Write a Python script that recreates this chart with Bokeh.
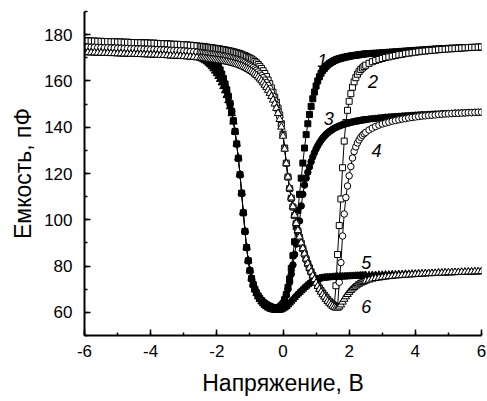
from bokeh.core.properties import value
from bokeh.embed import file_html
from bokeh.models import Range1d, SingleIntervalTicker, Title
from bokeh.plotting import figure
from bokeh.resources import INLINE

# Voltage sweep points, V: coarse on the plateaus, fine through the transitions
V_LEFT = [-6.0, -5.9, -5.8, -5.7, -5.6, -5.5, -5.4, -5.3, -5.2, -5.1,
          -5.0, -4.9, -4.8, -4.7, -4.6, -4.5, -4.4, -4.3, -4.2, -4.1,
          -4.0, -3.9, -3.8, -3.7, -3.6, -3.5, -3.4, -3.3, -3.2, -3.1,
          -3.0, -2.9, -2.8, -2.7, -2.6]
V_MID = [-2.50, -2.45, -2.40, -2.35, -2.30, -2.25, -2.20, -2.15, -2.10, -2.05,
         -2.00, -1.95, -1.90, -1.85, -1.80, -1.75, -1.70, -1.65, -1.60, -1.55,
         -1.50, -1.45, -1.40, -1.35, -1.30, -1.25, -1.20, -1.15, -1.10, -1.05,
         -1.00, -0.95, -0.90, -0.85, -0.80, -0.75, -0.70, -0.65, -0.60, -0.55,
         -0.50, -0.45, -0.40, -0.35, -0.30, -0.25, -0.20, -0.15, -0.10, -0.05,
         0.00, 0.05, 0.10, 0.15, 0.20, 0.25, 0.30, 0.35, 0.40, 0.45,
         0.50, 0.55, 0.60, 0.65, 0.70, 0.75, 0.80, 0.85, 0.90, 0.95,
         1.00, 1.05, 1.10, 1.15, 1.20, 1.25, 1.30, 1.35, 1.40, 1.45,
         1.50, 1.55, 1.60, 1.65, 1.70, 1.75, 1.80, 1.85, 1.90, 1.95,
         2.00, 2.05, 2.10, 2.15, 2.20, 2.25, 2.30, 2.35, 2.40, 2.45,
         2.50]
V_RIGHT = [2.6, 2.7, 2.8, 2.9, 3.0, 3.1, 3.2, 3.3, 3.4, 3.5,
           3.6, 3.7, 3.8, 3.9, 4.0, 4.1, 4.2, 4.3, 4.4, 4.5,
           4.6, 4.7, 4.8, 4.9, 5.0, 5.1, 5.2, 5.3, 5.4, 5.5,
           5.6, 5.7, 5.8, 5.9, 6.0]
VOLTAGE = V_LEFT + V_MID + V_RIGHT

# Capacitance, pF
C1 = [177.3, 177.3, 177.2, 177.2, 177.1, 177.1, 177.0, 177.0, 176.9, 176.9,
      176.8, 176.8, 176.7, 176.7, 176.6, 176.6, 176.5, 176.5, 176.4, 176.4,
      176.3, 176.3, 176.2, 176.1, 176.1, 176.0, 175.9, 175.8, 175.8, 175.7,
      175.6, 175.5, 175.4, 175.3, 175.0,
      174.7, 174.4, 174.0, 173.6, 173.1, 172.5, 171.8, 171.0, 170.1, 169.0,
      167.8, 166.4, 164.8, 163.0, 161.0, 158.7, 156.2, 153.4, 150.3, 146.8,
      142.8, 138.2, 132.8, 126.6, 119.5, 111.5, 103.0, 95.0, 88.0, 82.3,
      78.0, 74.6, 72.0, 70.0, 68.4, 67.1, 66.0, 65.1, 64.4, 63.8,
      63.3, 62.9, 62.6, 62.3, 62.1, 62.0, 61.9, 61.9, 62.2, 62.9,
      63.8, 65.5, 67.8, 70.8, 74.5, 79.0, 84.5, 90.5, 97.0, 104.0,
      111.0, 118.0, 124.5, 131.0, 136.8, 141.5, 145.5, 149.0, 152.3, 155.2,
      157.8, 160.0, 161.8, 163.3, 164.5, 165.4, 166.2, 166.9, 167.5, 168.0,
      168.4, 168.8, 169.1, 169.4, 169.6, 169.8, 170.0, 170.2, 170.3, 170.5,
      170.6, 170.8, 170.9, 171.0, 171.1, 171.2, 171.3, 171.4, 171.5, 171.6,
      171.7,
      171.8, 171.9, 172.0, 172.1, 172.2, 172.3, 172.4, 172.5, 172.6, 172.7,
      172.8, 172.9, 173.0, 173.1, 173.2, 173.3, 173.4, 173.5, 173.6, 173.7,
      173.8, 173.9, 174.0, 174.0, 174.1, 174.2, 174.2, 174.3, 174.3, 174.4,
      174.4, 174.5, 174.5, 174.6, 174.6]
C2 = [177.3, 177.3, 177.2, 177.2, 177.1, 177.1, 177.0, 177.0, 176.9, 176.9,
      176.8, 176.8, 176.7, 176.7, 176.6, 176.6, 176.5, 176.5, 176.4, 176.4,
      176.3, 176.3, 176.2, 176.1, 176.1, 176.0, 175.9, 175.8, 175.8, 175.7,
      175.6, 175.5, 175.4, 175.3, 175.1,
      175.0, 174.9, 174.8, 174.7, 174.6, 174.5, 174.4, 174.3, 174.2, 174.1,
      174.0, 173.9, 173.8, 173.6, 173.5, 173.4, 173.2, 173.1, 172.9, 172.8,
      172.6, 172.4, 172.2, 172.0, 171.8, 171.5, 171.2, 170.9, 170.6, 170.2,
      169.9, 169.5, 169.0, 168.4, 167.8, 167.1, 166.3, 165.4, 164.4, 163.2,
      161.9, 160.4, 158.8, 157.0, 155.1, 153.0, 150.8, 148.3, 145.3, 141.5,
      137.0, 131.0, 124.5, 118.5, 113.5, 109.3, 105.5, 101.8, 98.3, 95.2,
      92.4, 89.9, 87.5, 85.2, 83.0, 81.0, 79.2, 77.5, 75.9, 74.4,
      73.0, 71.7, 70.5, 69.4, 68.4, 67.4, 66.5, 65.6, 64.8, 64.1,
      63.5, 63.0, 71.5, 85.0, 97.5, 109.0, 122.5, 134.0, 142.0, 147.3,
      151.2, 154.5, 157.3, 159.6, 161.4, 162.9, 164.0, 164.9, 165.6, 166.2,
      166.8,
      167.6, 168.3, 168.8, 169.3, 169.7, 170.1, 170.4, 170.7, 171.0, 171.3,
      171.5, 171.8, 172.0, 172.2, 172.4, 172.6, 172.8, 172.9, 173.1, 173.2,
      173.3, 173.5, 173.6, 173.7, 173.8, 173.9, 174.0, 174.1, 174.2, 174.3,
      174.4, 174.5, 174.5, 174.6, 174.7]
C3 = [174.6, 174.6, 174.5, 174.5, 174.4, 174.4, 174.3, 174.3, 174.2, 174.2,
      174.1, 174.1, 174.0, 174.0, 173.9, 173.9, 173.8, 173.8, 173.7, 173.7,
      173.6, 173.6, 173.5, 173.4, 173.4, 173.3, 173.2, 173.1, 173.1, 173.0,
      172.9, 172.8, 172.7, 172.6, 172.4,
      172.3, 172.0, 171.6, 171.2, 170.7, 170.1, 169.4, 168.6, 167.7, 166.7,
      165.6, 164.4, 163.0, 161.5, 159.7, 157.7, 155.5, 153.0, 150.1, 146.7,
      142.7, 138.1, 132.7, 126.5, 119.4, 111.4, 103.0, 95.0, 88.0, 82.3,
      78.0, 74.6, 72.0, 70.0, 68.4, 67.0, 65.9, 65.0, 64.3, 63.7,
      63.2, 62.8, 62.5, 62.2, 62.0, 61.9, 61.9, 62.1, 62.6, 63.2,
      64.0, 65.5, 67.5, 70.0, 73.0, 76.5, 80.5, 85.0, 89.5, 94.5,
      99.5, 106.0, 111.0, 115.0, 118.0, 120.5, 122.8, 125.1, 127.2, 129.0,
      130.6, 132.0, 133.2, 134.3, 135.3, 136.1, 136.9, 137.5, 138.1, 138.6,
      139.1, 139.5, 139.9, 140.2, 140.5, 140.8, 141.1, 141.3, 141.5, 141.7,
      141.9, 142.1, 142.3, 142.4, 142.6, 142.7, 142.8, 143.0, 143.1, 143.2,
      143.3,
      143.5, 143.7, 143.8, 144.0, 144.1, 144.3, 144.4, 144.5, 144.6, 144.7,
      144.8, 144.9, 145.0, 145.1, 145.2, 145.3, 145.4, 145.4, 145.5, 145.6,
      145.7, 145.7, 145.8, 145.9, 145.9, 146.0, 146.1, 146.1, 146.2, 146.2,
      146.3, 146.3, 146.4, 146.4, 146.5]
C4 = [174.6, 174.6, 174.5, 174.5, 174.4, 174.4, 174.3, 174.3, 174.2, 174.2,
      174.1, 174.1, 174.0, 174.0, 173.9, 173.9, 173.8, 173.8, 173.7, 173.7,
      173.6, 173.6, 173.5, 173.4, 173.4, 173.3, 173.2, 173.1, 173.1, 173.0,
      172.9, 172.8, 172.7, 172.6, 172.4,
      172.3, 172.2, 172.1, 172.0, 171.9, 171.8, 171.7, 171.6, 171.5, 171.4,
      171.3, 171.2, 171.1, 171.0, 170.8, 170.7, 170.5, 170.4, 170.2, 170.0,
      169.8, 169.6, 169.4, 169.2, 168.9, 168.6, 168.3, 168.0, 167.6, 167.2,
      166.8, 166.3, 165.8, 165.2, 164.6, 163.9, 163.1, 162.3, 161.4, 160.4,
      159.3, 158.1, 156.7, 155.1, 153.4, 151.6, 149.6, 147.3, 144.5, 140.9,
      136.6, 130.8, 124.4, 118.5, 113.6, 109.4, 105.6, 101.9, 98.4, 95.3,
      92.5, 89.9, 87.4, 85.1, 82.9, 80.9, 79.1, 77.4, 75.8, 74.3,
      72.9, 71.6, 70.4, 69.3, 68.2, 67.2, 66.3, 65.4, 64.6, 63.9,
      63.3, 62.8, 62.5, 62.4, 73.0, 81.5, 93.0, 102.5, 109.6, 114.6,
      119.0, 123.0, 126.7, 129.5, 131.5, 133.2, 134.5, 135.6, 136.5, 137.2,
      137.8,
      138.8, 139.6, 140.3, 140.9, 141.4, 141.8, 142.2, 142.6, 142.9, 143.2,
      143.5, 143.7, 144.0, 144.2, 144.4, 144.6, 144.8, 144.9, 145.1, 145.2,
      145.3, 145.5, 145.6, 145.7, 145.8, 145.9, 146.0, 146.0, 146.1, 146.2,
      146.3, 146.3, 146.4, 146.5, 146.5]
C5 = [172.3, 172.3, 172.2, 172.2, 172.1, 172.1, 172.0, 172.0, 171.9, 171.9,
      171.8, 171.8, 171.7, 171.7, 171.6, 171.6, 171.5, 171.5, 171.4, 171.4,
      171.3, 171.3, 171.2, 171.1, 171.1, 171.0, 170.9, 170.8, 170.8, 170.7,
      170.6, 170.5, 170.4, 170.3, 170.1,
      169.9, 169.6, 169.2, 168.8, 168.3, 167.7, 167.0, 166.2, 165.3, 164.3,
      163.2, 162.0, 160.7, 159.2, 157.6, 155.8, 153.8, 151.5, 148.9, 145.9,
      142.3, 138.0, 132.8, 126.7, 119.6, 111.6, 103.2, 95.2, 88.2, 82.5,
      78.2, 74.8, 72.1, 70.0, 68.3, 66.8, 65.6, 64.6, 63.8, 63.1,
      62.5, 62.0, 61.6, 61.3, 61.1, 61.0, 60.9, 60.9, 61.0, 61.2,
      61.6, 62.0, 62.6, 63.3, 64.1, 64.9, 65.7, 66.5, 67.3, 68.0,
      68.7, 69.4, 70.1, 70.8, 71.4, 72.0, 72.5, 73.0, 73.4, 73.8,
      74.1, 74.3, 74.5, 74.7, 74.8, 74.9, 75.0, 75.0, 75.1, 75.1,
      75.2, 75.2, 75.3, 75.3, 75.3, 75.4, 75.4, 75.4, 75.5, 75.5,
      75.5, 75.6, 75.6, 75.6, 75.7, 75.7, 75.7, 75.8, 75.8, 75.8,
      75.9,
      75.9, 76.0, 76.0, 76.1, 76.1, 76.2, 76.2, 76.3, 76.3, 76.4,
      76.4, 76.5, 76.5, 76.6, 76.6, 76.7, 76.7, 76.8, 76.8, 76.9,
      76.9, 77.0, 77.0, 77.1, 77.1, 77.2, 77.2, 77.3, 77.3, 77.4,
      77.4, 77.5, 77.5, 77.6, 77.6]
C6 = [172.3, 172.3, 172.2, 172.2, 172.1, 172.1, 172.0, 172.0, 171.9, 171.9,
      171.8, 171.8, 171.7, 171.7, 171.6, 171.6, 171.5, 171.5, 171.4, 171.4,
      171.3, 171.3, 171.2, 171.1, 171.1, 171.0, 170.9, 170.8, 170.8, 170.7,
      170.6, 170.5, 170.4, 170.3, 170.1,
      170.0, 169.9, 169.8, 169.7, 169.6, 169.5, 169.4, 169.3, 169.2, 169.1,
      169.0, 168.9, 168.8, 168.7, 168.6, 168.4, 168.3, 168.1, 168.0, 167.8,
      167.6, 167.4, 167.2, 167.0, 166.7, 166.4, 166.1, 165.8, 165.4, 165.0,
      164.6, 164.1, 163.6, 163.0, 162.4, 161.7, 160.9, 160.1, 159.2, 158.2,
      157.2, 156.0, 154.7, 153.3, 151.8, 150.1, 148.2, 146.0, 143.4, 140.1,
      136.2, 130.6, 124.3, 118.5, 113.7, 109.5, 105.7, 102.0, 98.5, 95.4,
      92.6, 90.0, 87.6, 85.3, 83.1, 81.1, 79.2, 77.5, 75.8, 74.2,
      72.7, 71.3, 70.0, 68.8, 67.7, 66.7, 65.7, 64.8, 64.0, 63.3,
      62.7, 62.2, 61.9, 61.9, 62.4, 63.3, 64.5, 65.7, 66.8, 67.8,
      68.7, 69.5, 70.2, 70.8, 71.4, 71.9, 72.3, 72.7, 73.0, 73.3,
      73.6,
      74.0, 74.4, 74.7, 74.9, 75.1, 75.3, 75.5, 75.6, 75.8, 75.9,
      76.0, 76.1, 76.2, 76.3, 76.4, 76.5, 76.6, 76.7, 76.8, 76.8,
      76.9, 77.0, 77.0, 77.1, 77.2, 77.2, 77.3, 77.3, 77.4, 77.4,
      77.5, 77.5, 77.6, 77.6, 77.7]

CURVE_LABELS = ["1", "2", "3", "4", "5", "6"]
LABEL_X = [1.19, 2.72, 1.38, 2.83, 2.52, 2.52]
LABEL_Y = [169.0, 159.7, 143.6, 130.0, 81.4, 62.7]

for name, series in [("C1", C1), ("C2", C2), ("C3", C3), ("C4", C4), ("C5", C5), ("C6", C6)]:
    if len(series) != len(VOLTAGE):
        raise ValueError(f"{name}: {len(series)} values for {len(VOLTAGE)} voltages")

FONT = "Liberation Sans"

p = figure(width=487, height=401, output_backend="svg", toolbar_location=None,
           x_range=Range1d(-6, 6), y_range=Range1d(50, 190),
           min_border_left=84, min_border_right=6, min_border_top=11, min_border_bottom=66)
p.outline_line_color = None
p.xgrid.visible = False
p.ygrid.visible = False
p.background_fill_color = "white"
p.border_fill_color = "white"

p.xaxis.ticker = SingleIntervalTicker(interval=2, num_minor_ticks=2)
p.yaxis.ticker = SingleIntervalTicker(interval=20, num_minor_ticks=2)
# plain hyphen for negative tick values
p.xaxis.major_label_overrides = {-6: "-6", -4: "-4", -2: "-2"}
for ax in (p.xaxis, p.yaxis):
    ax.axis_line_width = 2
    ax.axis_line_color = "black"
    ax.major_tick_in = 6
    ax.major_tick_out = 0
    ax.minor_tick_in = 3
    ax.minor_tick_out = 0
    ax.major_tick_line_width = 1.5
    ax.minor_tick_line_width = 1.5
    ax.major_tick_line_color = "black"
    ax.minor_tick_line_color = "black"
    ax.major_label_text_font = FONT
    ax.major_label_text_font_size = "17px"
    ax.major_label_text_color = "black"
p.xaxis.major_label_standoff = 9
p.yaxis.major_label_standoff = 12

p.xaxis.axis_label = "Напряжение, В"
p.xaxis.axis_label_text_font = FONT
p.xaxis.axis_label_text_font_size = "23px"
p.xaxis.axis_label_text_font_style = "normal"
p.xaxis.axis_label_text_color = "black"
p.xaxis.axis_label_standoff = 10

# vertical axis title, shifted a little below the middle of the axis
p.add_layout(Title(text="Емкость, пФ", align="center", offset=-22, standoff=12,
                   text_font=FONT, text_font_size="23px", text_font_style="normal",
                   text_color="black"), "left")

series = [
    (C1, "square", "black"),
    (C2, "square", "white"),
    (C3, "circle", "black"),
    (C4, "circle", "white"),
    (C5, "triangle", "black"),
    (C6, "triangle", "white"),
]
sizes = {"square": 6, "circle": 6.5, "triangle": 7.5}

for cap, marker, fill in series:
    p.line(VOLTAGE, cap, line_color="black", line_width=1)
for cap, marker, fill in series:
    p.scatter(VOLTAGE, cap, marker=marker, size=sizes[marker],
              fill_color=fill, line_color="black", line_width=1)

p.text(x=LABEL_X, y=LABEL_Y, text=CURVE_LABELS, text_align="center", text_baseline="middle",
       text_font=value(FONT), text_font_size="18px", text_font_style="italic", text_color="black")

open("out.html", "w").write(file_html(p, INLINE))
